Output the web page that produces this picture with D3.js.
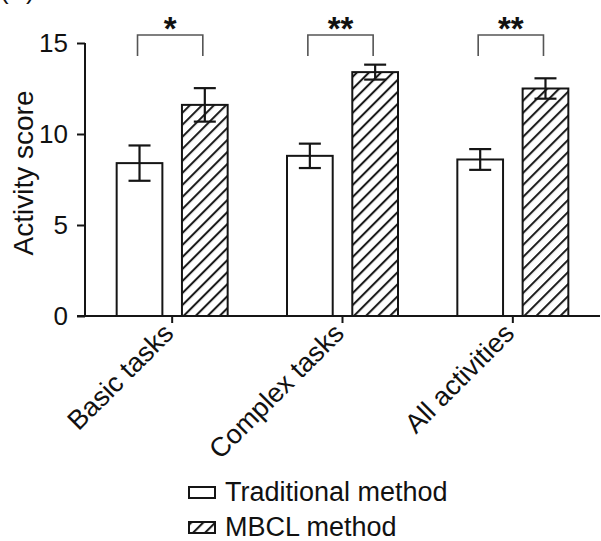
<!DOCTYPE html>
<html>
<head>
<meta charset="utf-8">
<script src="https://cdn.jsdelivr.net/npm/d3@7"></script>
<style>
  body { margin: 0; background: #fff; }
  text { font-family: "Liberation Sans", Arial, sans-serif; fill: #111; }
</style>
</head>
<body>
<div id="chart-area"></div>
<script>
// data
const categories = ["Basic tasks", "Complex tasks", "All activities"]
const series = ["Traditional method", "MBCL method"]
const traditional = [8.4, 8.8, 8.6]
const traditionalErr = [0.97, 0.67, 0.57]
const mbcl = [11.6, 13.4, 12.5]
const mbclErr = [0.92, 0.41, 0.56]
const significance = ["*", "**", "**"]
const yTicks = [0, 5, 10, 15]

const WIDTH = 601
const HEIGHT = 541
const INK = "#151515"

const svg = d3.select("#chart-area").append("svg")
	.attr("width", WIDTH)
	.attr("height", HEIGHT)

// hatch pattern
const defs = svg.append("defs")
defs.append("pattern")
	.attr("id", "hatch")
	.attr("patternUnits", "userSpaceOnUse")
	.attr("width", 8.5)
	.attr("height", 8.5)
	.attr("patternTransform", "rotate(45)")
	.append("line")
	.attr("x1", 2).attr("y1", 0)
	.attr("x2", 2).attr("y2", 8.5)
	.attr("stroke", INK)
	.attr("stroke-width", 2)

const rows = categories.map((c, i) => ({
	category: c,
	values: [
		{ key: series[0], value: traditional[i], err: traditionalErr[i] },
		{ key: series[1], value: mbcl[i], err: mbclErr[i] }
	],
	sig: significance[i]
}))

// scales
const y = d3.scaleLinear()
	.domain([0, 15])
	.range([316, 43])
const x0 = d3.scaleBand()
	.domain(categories)
	.range([87, 598])
const x1 = d3.scaleBand()
	.domain(series)
	.range([-55.5, 55.5])
	.paddingInner(0.3)
const fill = d3.scaleOrdinal()
	.domain(series)
	.range(["#fff", "url(#hatch)"])

const center = c => x0(c) + x0.bandwidth() / 2

// Y axis
const yAxis = svg.append("g")
	.attr("transform", "translate(85, 0)")
	.call(d3.axisLeft(y).tickValues(yTicks).tickSize(8).tickPadding(9))
yAxis.select(".domain").attr("stroke", INK).attr("stroke-width", 2)
	.attr("d", `M0,${y(15)}V${y(0)}`)
yAxis.selectAll(".tick line").attr("stroke", INK).attr("stroke-width", 2)
yAxis.selectAll(".tick text")
	.attr("font-size", "26px")
	.attr("font-family", "Liberation Sans, Arial, sans-serif")
	.attr("fill", INK)

// X axis
const xAxis = svg.append("g")
	.attr("transform", `translate(0, ${y(0)})`)
	.call(d3.axisBottom(x0).tickSize(7).tickFormat(""))
xAxis.select(".domain").attr("stroke", INK).attr("stroke-width", 2)
	.attr("d", "M77,0H600")
xAxis.selectAll(".tick line").attr("stroke", INK).attr("stroke-width", 2)

// X labels
svg.selectAll(".x-label")
	.data(categories)
	.enter().append("text")
	.attr("class", "x-label")
	.attr("text-anchor", "end")
	.attr("font-size", "27px")
	.attr("transform", d => `translate(${center(d) + 3}, ${y(0) + 19}) rotate(-45)`)
	.text(d => d)

// Y label
svg.append("text")
	.attr("transform", "rotate(-90)")
	.attr("x", -173)
	.attr("y", 33)
	.attr("text-anchor", "middle")
	.attr("font-size", "28px")
	.text("Activity score")

// bars
const groups = svg.selectAll(".group")
	.data(rows)
	.enter().append("g")
	.attr("class", "group")
	.attr("transform", d => `translate(${center(d.category)}, 0)`)

groups.selectAll("rect")
	.data(d => d.values)
	.enter().append("rect")
	.attr("x", d => x1(d.key))
	.attr("width", x1.bandwidth())
	.attr("y", d => y(d.value))
	.attr("height", d => y(0) - y(d.value))
	.attr("fill", d => fill(d.key))
	.attr("stroke", INK)
	.attr("stroke-width", 2)

// error bars
const err = groups.selectAll(".err")
	.data(d => d.values)
	.enter().append("g")
	.attr("class", "err")
	.attr("transform", d => `translate(${x1(d.key) + x1.bandwidth() / 2}, 0)`)
	.attr("stroke", INK)
	.attr("stroke-width", 2.2)
err.append("line")
	.attr("y1", d => y(d.value + d.err))
	.attr("y2", d => y(d.value - d.err))
err.append("line")
	.attr("x1", -11).attr("x2", 11)
	.attr("y1", d => y(d.value + d.err))
	.attr("y2", d => y(d.value + d.err))
err.append("line")
	.attr("x1", -11).attr("x2", 11)
	.attr("y1", d => y(d.value - d.err))
	.attr("y2", d => y(d.value - d.err))

// significance brackets
const bx = k => x1(k) + x1.bandwidth() / 2
groups.append("path")
	.attr("fill", "none")
	.attr("stroke", "#555")
	.attr("stroke-width", 1.6)
	.attr("d", `M${bx(series[0]) - 2},56V35H${bx(series[1]) - 2}V56`)
groups.append("text")
	.attr("x", (bx(series[0]) + bx(series[1])) / 2 - 2)
	.attr("y", 40)
	.attr("text-anchor", "middle")
	.attr("font-size", "33px")
	.attr("font-weight", "bold")
	.text(d => d.sig)

// panel letter (cut off at top)
svg.append("text")
	.attr("x", 0)
	.attr("y", -1)
	.attr("font-size", "26px")
	.text("(A)")

// legend
const legend = svg.selectAll(".legend")
	.data(series)
	.enter().append("g")
	.attr("class", "legend")
	.attr("transform", (d, i) => `translate(189, ${487 + i * 35})`)
legend.append("rect")
	.attr("width", 26)
	.attr("height", 11)
	.attr("fill", d => fill(d))
	.attr("stroke", INK)
	.attr("stroke-width", 2)
legend.append("text")
	.attr("x", 36)
	.attr("y", 14)
	.attr("font-size", "27px")
	.text(d => d)
</script>
</body>
</html>
